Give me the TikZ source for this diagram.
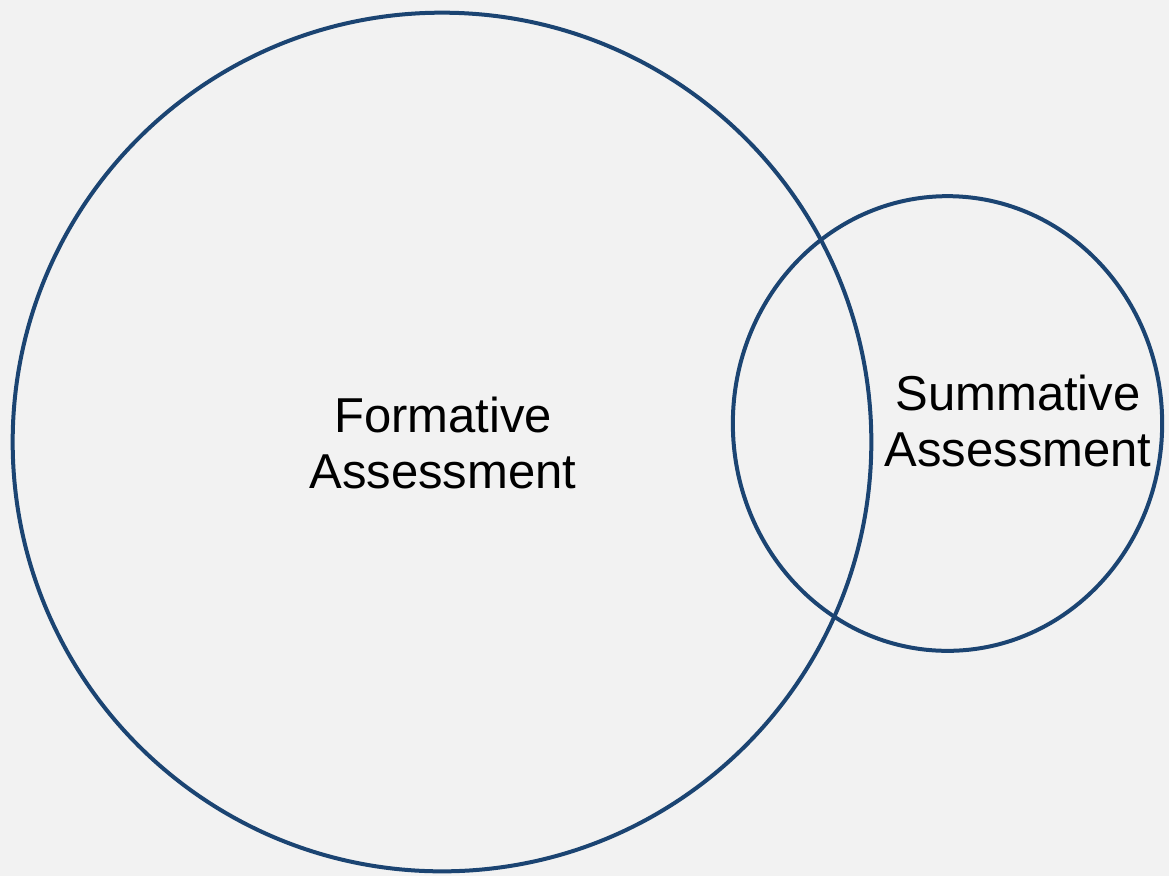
\documentclass[tikz,border=0pt]{standalone}
\usepackage{fontspec}
\setmainfont{Liberation Sans}
\usetikzlibrary{shapes.geometric}
\definecolor{bg}{HTML}{F2F2F2}
\definecolor{ring}{HTML}{1B4472}
\begin{document}
\begin{tikzpicture}[x=0.75pt,y=-0.75pt,
  ringline/.style={draw=ring,line width=3pt},
  label/.style={align=center,font=\fontsize{36.75pt}{42pt}\selectfont,inner sep=0pt,text=black}]
\fill[bg] (0,0) rectangle (1169,876);
\useasboundingbox (0,0) rectangle (1169,876);
\node[ringline,circle,minimum size=644pt,inner sep=0pt] (formative) at (442,442) {};
\node[ringline,ellipse,minimum width=322pt,minimum height=341pt,inner sep=0pt] (summative) at (947.5,423.5) {};
\node[label] (ftext) at (443,443) {Formative\\Assessment};
\node[label] (stext) at (1018,421) {Summative\\Assessment};
\end{tikzpicture}
\end{document}
